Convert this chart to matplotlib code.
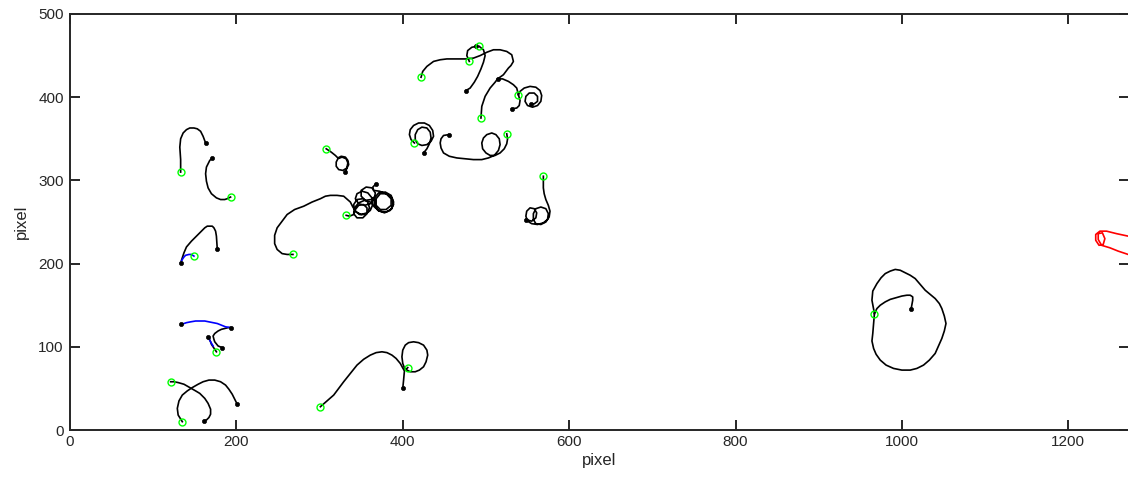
import matplotlib
matplotlib.use('Agg')
import matplotlib.pyplot as plt

plt.rcParams['font.family'] = ['Liberation Sans', 'DejaVu Sans']

# ---------------- data (pixel coordinates of tracked paths) ----------------
x_ticks = [0, 200, 400, 600, 800, 1000, 1200]
y_ticks = [0, 100, 200, 300, 400, 500]

t01_x = [133, 133, 132, 133, 136, 140, 144, 149, 153, 157, 160, 163]
t01_y = [310, 325, 340, 350, 357, 361, 363, 363, 362, 359, 353, 345]

t02_x = [193, 189, 186, 181, 176, 170, 166, 164, 163, 164, 166, 168, 171]
t02_y = [280, 278, 277, 277, 279, 284, 291, 299, 308, 316, 320, 324, 327]

t03_x = [149, 146, 143, 139, 137, 135, 133]
t03_y = [209, 211, 211, 210, 208, 205, 201]

t04_x = [134, 137, 140, 146, 152, 157, 162, 165, 168, 171, 173, 175, 176, 177]
t04_y = [204, 213, 220, 227, 233, 238, 243, 245, 245, 245, 243, 239, 233, 218]

t05_x = [134, 140, 145, 151, 156, 162, 167, 172, 177, 182, 187, 194]
t05_y = [127, 129, 130, 131, 131, 131, 130, 129, 128, 126, 124, 123]

t06_x = [194, 190, 186, 182, 178, 174, 172, 173, 174, 178, 183]
t06_y = [123, 123, 122, 121, 119, 116, 113, 109, 106, 101, 99]

t07_x = [176, 174, 172, 170, 169, 166]
t07_y = [94, 97, 100, 103, 106, 112]

t08_x = [167, 169, 172]
t08_y = [110, 106, 101]

t09_x = [121, 125, 130, 137, 144, 151, 156, 162, 166, 169, 169, 167, 164, 161]
t09_y = [58, 58, 57, 55, 51, 47, 44, 38, 32, 25, 19, 15, 12, 11]

t10_x = [135, 130, 129, 131, 135, 141, 147, 154, 160, 167, 174, 181, 187, 191, 195, 198, 201]
t10_y = [10, 18, 26, 35, 42, 47, 51, 55, 58, 60, 60, 58, 54, 49, 43, 37, 31]

t11_x = [308, 314, 319, 322, 326, 331, 334, 335, 333, 328, 323, 320, 320, 322, 327, 332, 334, 333,
         332, 331]
t11_y = [338, 334, 330, 327, 329, 328, 324, 319, 315, 312, 313, 317, 322, 326, 328, 326, 321, 316,
         312, 310]

t12_x = [268, 261, 255, 249, 246, 246, 249, 255, 261, 270, 281, 291, 301, 307, 313, 321, 329, 337,
         340, 344, 350, 357, 360, 358, 352, 345, 341, 342, 348, 355, 361, 364, 363, 358, 351, 345,
         343, 347, 354, 361, 366, 367, 363, 356, 350, 350, 355, 362, 367]
t12_y = [211, 211, 212, 217, 224, 234, 243, 251, 259, 265, 269, 274, 278, 281, 282, 282, 281, 274,
         268, 262, 259, 261, 267, 274, 278, 277, 271, 264, 259, 259, 264, 271, 279, 285, 287, 284,
         278, 272, 270, 272, 278, 285, 291, 292, 288, 281, 276, 277, 281]

t13_x = [332, 336, 341, 343, 347, 353, 357, 357, 352, 345, 341, 342, 347, 354, 361, 366, 372, 380,
         387, 389, 386, 379, 371, 366, 366, 370, 378, 385, 389, 387, 381, 373, 368, 368, 373, 380,
         386, 386, 380, 372, 365, 364, 368]
t13_y = [258, 257, 259, 265, 270, 271, 267, 260, 255, 255, 260, 267, 273, 276, 274, 268, 263, 262,
         266, 274, 282, 286, 285, 279, 271, 264, 261, 264, 271, 279, 284, 284, 278, 270, 265, 265,
         270, 278, 284, 287, 288, 292, 296]

t14_x = [301, 309, 317, 323, 329, 337, 345, 353, 361, 368, 375, 381, 387, 392, 397, 402, 401, 400]
t14_y = [28, 35, 42, 50, 58, 68, 78, 85, 90, 93, 94, 93, 90, 86, 80, 71, 60, 50]

t15_x = [406, 403, 400, 399, 400, 403, 407, 413, 419, 425, 429, 430, 428, 425, 420, 415, 409, 405,
         402]
t15_y = [75, 72, 80, 88, 96, 102, 105, 106, 105, 102, 96, 90, 82, 76, 72, 70, 70, 72, 74]

t16_x = [422, 424, 429, 437, 445, 453, 461, 469, 477, 485, 493, 501, 509, 517, 525, 531, 533, 530,
         527, 521, 514]
t16_y = [424, 431, 437, 443, 445, 446, 446, 446, 446, 447, 450, 454, 457, 457, 455, 451, 443, 438,
         435, 427, 422]

t17_x = [480, 477, 478, 483, 488]
t17_y = [443, 450, 456, 460, 461]

t18_x = [492, 497, 499, 497, 494, 490, 486, 481, 476]
t18_y = [461, 457, 450, 442, 434, 425, 418, 411, 408]

t19_x = [494, 495, 499, 505, 511, 514, 520, 527, 533, 537, 539]
t19_y = [375, 389, 401, 411, 418, 422, 422, 419, 415, 411, 403]

t20_x = [539, 541, 540, 537, 531]
t20_y = [403, 396, 390, 387, 386]

t21_x = [539, 541, 546, 553, 560, 565, 567, 566, 562, 556, 550, 547, 548, 552, 558, 562, 562, 558,
         554]
t21_y = [403, 407, 411, 413, 412, 408, 402, 395, 390, 388, 390, 395, 401, 405, 405, 401, 395, 392,
         392]

t22_x = [414, 410, 408, 409, 413, 419, 426, 432, 436, 437, 434, 429, 423, 418, 415, 415, 418, 423,
         429, 433, 434, 432, 429, 425]
t22_y = [345, 349, 355, 361, 366, 369, 369, 366, 360, 353, 347, 343, 342, 344, 349, 355, 361, 364,
         363, 358, 351, 344, 338, 333]

t23_x = [525, 526, 525, 522, 517, 511, 505, 500, 496, 495, 497, 501, 507, 512, 516, 517, 515, 510,
         503, 495, 485, 475, 465, 456, 449, 446, 445, 446, 449, 455]
t23_y = [356, 350, 344, 338, 333, 330, 330, 333, 338, 345, 351, 355, 357, 355, 350, 343, 336, 330,
         327, 325, 325, 326, 327, 329, 333, 339, 345, 350, 354, 355]

t24_x = [569, 569, 569, 570, 572, 575, 577, 576, 572, 566, 560, 557, 557, 560, 566, 572, 575, 574,
         569, 562, 555, 550, 548, 549, 553, 558, 561, 560, 555, 548]
t24_y = [305, 298, 291, 284, 277, 270, 263, 256, 250, 247, 248, 253, 260, 266, 268, 266, 260, 253,
         249, 247, 248, 251, 257, 263, 267, 266, 261, 255, 251, 253]

t25_x = [967, 964, 965, 970, 975, 980, 986, 992, 998, 1004, 1010, 1016, 1022, 1028, 1034, 1040,
         1045, 1048, 1051, 1053, 1051, 1048, 1044, 1040, 1033, 1026, 1018, 1010, 1000, 990, 981,
         974, 969, 966, 964, 965, 967, 970, 974, 980, 986, 993, 1000, 1006, 1010, 1013, 1013, 1011]
t25_y = [140, 156, 167, 176, 183, 188, 191, 193, 192, 189, 186, 182, 175, 168, 163, 158, 152, 146,
         137, 128, 119, 110, 101, 92, 84, 78, 74, 72, 72, 74, 78, 84, 91, 98, 107, 116, 140, 146,
         150, 154, 157, 159, 161, 162, 162, 160, 156, 145]

t26_x = [1285, 1272, 1258, 1246, 1238, 1233, 1233, 1237, 1242, 1244, 1241, 1236, 1236, 1240, 1250,
         1260, 1272, 1285]
t26_y = [231, 233, 236, 239, 239, 235, 228, 222, 223, 230, 237, 236, 229, 222, 219, 215, 211, 208]

# (x, y, colour, start marker, end marker)   marker: 'g' green ring, 'd' black dot, '' none
tracks = [
    (t01_x, t01_y, 'k', 'g', 'd'),
    (t02_x, t02_y, 'k', 'g', 'd'),
    (t04_x, t04_y, 'k', '', 'd'),
    (t03_x, t03_y, 'b', 'g', 'd'),
    (t06_x, t06_y, 'k', '', 'd'),
    (t07_x, t07_y, 'k', 'g', 'd'),
    (t08_x, t08_y, 'b', '', ''),
    (t05_x, t05_y, 'b', 'd', 'd'),
    (t09_x, t09_y, 'k', 'g', 'd'),
    (t10_x, t10_y, 'k', 'g', 'd'),
    (t11_x, t11_y, 'k', 'g', 'd'),
    (t12_x, t12_y, 'k', 'g', ''),
    (t13_x, t13_y, 'k', 'g', 'd'),
    (t14_x, t14_y, 'k', 'g', 'd'),
    (t15_x, t15_y, 'k', 'g', ''),
    (t16_x, t16_y, 'k', 'g', 'd'),
    (t17_x, t17_y, 'k', 'g', 'd'),
    (t18_x, t18_y, 'k', 'g', 'd'),
    (t19_x, t19_y, 'k', 'g', ''),
    (t20_x, t20_y, 'k', 'g', 'd'),
    (t21_x, t21_y, 'k', '', 'd'),
    (t22_x, t22_y, 'k', 'g', 'd'),
    (t23_x, t23_y, 'k', 'g', 'd'),
    (t24_x, t24_y, 'k', 'g', 'd'),
    (t25_x, t25_y, 'k', 'g', 'd'),
    (t26_x, t26_y, 'r', '', ''),
]

# ---------------- plotting ----------------
W, H = 1128, 491
fig = plt.figure(figsize=(W / 100, H / 100), dpi=100)
ax = fig.add_axes([70 / W, 61 / H, 1059 / W, 416 / H])

colmap = {'k': '#000000', 'b': '#0000ff', 'r': '#ff0000'}
for xs, ys, c, s, e in tracks:
    ax.plot(xs, ys, '-', color=colmap[c], lw=1.2, solid_joinstyle='round',
            zorder=2 if c == 'k' else 3)


def mark(ax, x, y, kind):
    if kind == 'd':
        ax.plot(x, y, 'o', ms=3, mfc='k', mec='k', mew=0.5, zorder=4)
    elif kind == 'g':
        ax.plot(x, y, 'o', ms=5, mfc='none', mec='#00ff00', mew=1.0, zorder=5)


for xs, ys, c, s, e in tracks:
    mark(ax, xs[-1], ys[-1], e)
for xs, ys, c, s, e in tracks:
    mark(ax, xs[0], ys[0], s)

ax.set_xlim(0, 1273)
ax.set_ylim(0, 500)
ax.set_xticks(x_ticks)
ax.set_yticks(y_ticks)

dark = '#262626'
for sp in ax.spines.values():
    sp.set_color(dark)
    sp.set_linewidth(1.4)
ax.tick_params(direction='in', length=7, width=1.4, color=dark, labelcolor=dark,
               labelsize=11, top=True, right=True)
ax.tick_params(axis='x', pad=3.5)
ax.tick_params(axis='y', pad=4.5)

ax.set_xlabel('pixel', fontsize=12, color=dark, labelpad=3)
ax.set_ylabel('pixel', fontsize=12, color=dark, labelpad=7)

fig.savefig('out.png', dpi=100, facecolor='white')
